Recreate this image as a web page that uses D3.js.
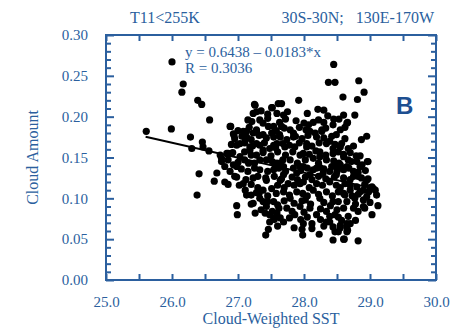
<!DOCTYPE html>
<html>
<head>
<meta charset="utf-8">
<script src="https://cdn.jsdelivr.net/npm/d3@7"></script>
<style>
  body { margin: 0; background: #fff; }
  text { font-family: "Liberation Serif", serif; fill: #2b5f9e; }
</style>
</head>
<body>
<svg id="chart" width="461" height="331"></svg>
<script>
// axis ticks
const xTicks = [25, 25.5, 26, 26.5, 27, 27.5, 28, 28.5, 29, 29.5, 30];
const yTicks = d3.range(0, 0.3001, 0.01).map(v => +v.toFixed(2));
const yLabels = [0, 0.05, 0.1, 0.15, 0.2, 0.25, 0.3];

// regression fit y = 0.6438 - 0.0183*x
const fitX = [25.6, 29.1];
const fitY = [0.1753, 0.1113];

// points [sst, cloud amount]
const leftTail = [
  [25.61,0.182],[25.99,0.185],[26.0,0.267],[26.17,0.240],[26.15,0.230],[26.39,0.220],
  [26.45,0.215],[26.57,0.196],[26.28,0.175],[26.46,0.169],[26.47,0.163],[26.56,0.158],
  [26.30,0.161],[26.38,0.104],[26.41,0.130],[26.64,0.121],[26.68,0.131],[26.80,0.120],
  [26.85,0.117],[26.89,0.188],[26.94,0.177],[26.93,0.179]
];
const topScatter = [
  [27.25,0.215],[27.28,0.206],[27.52,0.211],[28.45,0.264],[28.37,0.242],[28.47,0.242],
  [28.83,0.244],[28.91,0.230],[28.81,0.221],[28.59,0.224],[27.92,0.220],[28.21,0.209],
  [28.36,0.201],[28.53,0.197],[28.66,0.193],[27.61,0.216],[27.51,0.211],[28.95,0.176],
  [28.87,0.172],[28.60,0.202],[28.77,0.202],[28.65,0.192],[27.66,0.216],[27.69,0.202],
  [27.26,0.214],[27.23,0.204],[27.59,0.204]
];
const bottomScatter = [
  [28.97,0.145],[28.79,0.152],[29.12,0.091],[29.03,0.080],[29.08,0.110],[28.61,0.050],
  [28.82,0.048],[28.65,0.059],[28.23,0.056],[27.98,0.055],[27.97,0.062],[28.44,0.049],
  [28.47,0.059],[26.98,0.091],[26.99,0.080],[27.26,0.082],[27.46,0.062],[27.42,0.055],
  [28.96,0.145],[28.60,0.050],[28.66,0.061],[28.52,0.059],[28.65,0.069]
];
const clusterWest = [
  [26.73,0.153],[26.85,0.155],[26.75,0.145],[26.80,0.139],[26.88,0.133],[26.98,0.139],
  [26.95,0.127],[27.08,0.118],[27.11,0.110],[27.13,0.104],[27.23,0.094],[27.28,0.107],
  [27.38,0.096],[27.43,0.090],[27.48,0.080],[27.54,0.076],[27.59,0.082],[27.03,0.167],
  [27.13,0.175],[27.18,0.159],[27.28,0.167],[27.38,0.159],[27.43,0.147],[27.33,0.135],
  [27.23,0.125],[27.43,0.122],[27.51,0.112],[27.38,0.110],[27.54,0.135],[27.59,0.143],
  [27.28,0.182],[27.13,0.182],[27.54,0.175],[27.21,0.194],[27.33,0.196],[27.38,0.192],
  [27.54,0.188],[26.88,0.188],[27.08,0.182],[27.11,0.173],[27.23,0.180],[27.38,0.178],
  [27.51,0.180],[26.98,0.165],[26.83,0.155],[27.18,0.163],[27.33,0.165],[27.48,0.161],
  [27.59,0.167],[26.75,0.149],[27.03,0.151],[27.28,0.153],[26.93,0.141],[27.16,0.143],
  [27.56,0.141],[27.41,0.082],[27.48,0.071],[27.33,0.100],[27.54,0.096]
];
const clusterEast = [
  [28.14,0.193],[28.07,0.190],[28.44,0.190],[27.66,0.188],[27.79,0.184],[28.27,0.184],
  [28.09,0.182],[27.84,0.175],[27.64,0.175],[28.39,0.170],[28.19,0.175],[28.04,0.167],
  [27.86,0.163],[27.71,0.163],[28.24,0.157],[28.44,0.161],[27.99,0.155],[28.14,0.149],
  [27.79,0.147],[28.34,0.147],[27.94,0.139],[27.69,0.139],[28.49,0.139],[28.19,0.137],
  [28.57,0.167],[28.67,0.161],[28.60,0.151],[28.72,0.145],[28.55,0.141],[28.65,0.139],
  [27.69,0.071],[27.86,0.080],[27.74,0.088],[27.94,0.090],[28.09,0.088],[28.19,0.080],
  [28.34,0.084],[28.47,0.080],[28.12,0.069],[28.39,0.071],[28.44,0.065],[27.79,0.100],
  [28.02,0.098],[28.24,0.100],[28.44,0.096],[27.69,0.108],[27.89,0.108],[28.14,0.110],
  [28.34,0.108],[28.52,0.108],[27.76,0.118],[27.99,0.120],[28.19,0.118],[28.39,0.120],
  [27.69,0.129],[27.89,0.131],[28.09,0.129],[28.29,0.131],[28.49,0.129],[27.99,0.139],
  [28.24,0.138],[28.42,0.139],[28.57,0.137],[28.75,0.133],[28.87,0.125],[29.03,0.114],
  [28.98,0.108],[28.85,0.108],[28.70,0.116],[28.60,0.125],[28.62,0.104],[28.77,0.100],
  [28.90,0.098],[28.92,0.088],[28.75,0.088],[28.60,0.088],[28.67,0.078],[28.57,0.073],
  [28.70,0.069],[28.65,0.065],[27.84,0.180],[28.17,0.180],[28.27,0.182],[28.49,0.178],
  [27.54,0.165],[28.04,0.163],[28.34,0.167],[28.55,0.163],[27.94,0.153],[28.24,0.151],
  [28.44,0.155],[28.67,0.147],[28.85,0.139],[27.64,0.143],[27.84,0.137],[28.14,0.135],
  [28.39,0.133],[28.60,0.135],[28.75,0.127],[28.95,0.122],[29.05,0.112],[28.90,0.110],
  [27.64,0.122],[27.94,0.118],[28.49,0.116],[28.70,0.110],[28.65,0.096],[28.90,0.090],
  [27.64,0.076],[28.39,0.078],[27.99,0.069],[28.34,0.071],[28.55,0.067]
];
const clusterCore = [
  [27.35,0.207],[27.45,0.203],[27.75,0.206],[28.05,0.204],[28.3,0.208],
  [27.15,0.196],[27.45,0.198],[27.63,0.193],[27.72,0.197],[27.88,0.195],[28.0,0.192],
  [28.22,0.196],[28.3,0.193],[28.45,0.197],
  [27.0,0.183],[27.17,0.187],[27.28,0.184],[27.46,0.188],[27.58,0.183],[27.7,0.186],
  [27.93,0.187],[28.03,0.184],[28.33,0.186],[28.55,0.184],[28.62,0.187],
  [26.95,0.173],[27.06,0.176],[27.2,0.172],[27.32,0.177],[27.43,0.174],[27.63,0.178],
  [27.74,0.172],[27.87,0.176],[27.97,0.173],[28.06,0.177],[28.3,0.174],[28.42,0.176],[28.62,0.173],
  [26.9,0.166],[27.1,0.168],[27.22,0.164],[27.4,0.168],[27.57,0.162],[27.68,0.167],
  [27.78,0.165],[27.93,0.168],[28.12,0.164],[28.23,0.168],[28.47,0.166],[28.75,0.164],
  [26.92,0.156],[27.1,0.157],[27.2,0.153],[27.38,0.156],[27.5,0.152],[27.6,0.157],
  [27.72,0.153],[27.83,0.157],[28.08,0.154],[28.18,0.158],[28.33,0.153],[28.52,0.157],
  [28.6,0.154],[28.7,0.156],[28.85,0.152],
  [26.85,0.147],[27.0,0.144],[27.1,0.147],[27.25,0.143],[27.33,0.147],[27.52,0.145],
  [27.68,0.147],[27.9,0.143],[28.02,0.147],[28.22,0.143],[28.45,0.146],[28.53,0.143],
  [28.8,0.145],[28.88,0.141],
  [27.05,0.136],[27.15,0.133],[27.25,0.137],[27.45,0.133],[27.62,0.137],[27.72,0.133],
  [27.95,0.134],[28.05,0.137],[28.3,0.136],[28.5,0.133],[28.68,0.137],[28.82,0.132],[28.93,0.134],
  [26.98,0.126],[27.12,0.123],[27.3,0.127],[27.42,0.125],[27.55,0.127],[27.66,0.124],
  [27.82,0.126],[27.9,0.123],[28.02,0.126],[28.12,0.123],[28.22,0.127],[28.33,0.124],
  [28.46,0.126],[28.7,0.123],[28.82,0.127],[28.97,0.124],
  [27.02,0.116],[27.2,0.117],[27.3,0.113],[27.6,0.116],[27.7,0.113],[27.85,0.116],
  [28.08,0.113],[28.28,0.116],[28.55,0.113],[28.62,0.118],[28.8,0.114],[28.92,0.117],[29.0,0.113],
  [27.2,0.104],[27.32,0.106],[27.45,0.103],[27.58,0.106],[27.78,0.104],[27.98,0.106],
  [28.05,0.103],[28.22,0.105],[28.43,0.103],[28.6,0.106],[28.73,0.103],[28.82,0.105],
  [28.95,0.102],[29.1,0.104],
  [27.2,0.093],[27.45,0.096],[27.6,0.092],[27.7,0.097],[27.85,0.094],[27.97,0.097],
  [28.1,0.093],[28.3,0.095],[28.4,0.091],[28.52,0.096],[28.78,0.093],[29.0,0.095],
  [27.35,0.086],[27.52,0.084],[27.62,0.088],[27.82,0.084],[28.0,0.083],[28.25,0.087],
  [28.5,0.086],[28.82,0.084],
  [27.55,0.074],[27.78,0.076],[27.95,0.074],[28.05,0.077],[28.25,0.074],[28.52,0.077],[28.78,0.073],
  [27.6,0.066],[27.85,0.064],[28.12,0.063],[28.3,0.066],[28.55,0.064]
];

const points = [].concat(leftTail, topScatter, bottomScatter, clusterWest, clusterEast, clusterCore);

const blue = "#2b5f9e";
const svg = d3.select("#chart");
const margin = { top: 35, right: 25, bottom: 51, left: 106 };
const width = 461 - margin.left - margin.right;
const height = 331 - margin.top - margin.bottom;

const x = d3.scaleLinear().domain([25, 30]).range([0, width]);
const y = d3.scaleLinear().domain([0, 0.3]).range([height, 0]);

const g = svg.append("g").attr("transform", `translate(${margin.left},${margin.top})`);

// points first, frame on top
g.selectAll("circle")
  .data(points)
  .enter()
  .append("circle")
  .attr("cx", d => x(d[0]))
  .attr("cy", d => y(d[1]))
  .attr("r", 3.6)
  .attr("fill", "#000");

// fit line
g.append("line")
  .attr("x1", x(fitX[0])).attr("y1", y(fitY[0]))
  .attr("x2", x(fitX[1])).attr("y2", y(fitY[1]))
  .attr("stroke", "#000")
  .attr("stroke-width", 2);

// bottom axis with labels, ticks pointing inward
const xb = g.append("g")
  .attr("transform", `translate(0,${height})`)
  .call(d3.axisBottom(x).tickValues(xTicks).tickSize(-6).tickPadding(16)
    .tickFormat(d => Number.isInteger(d) ? d.toFixed(1) : ""));
const xt = g.append("g")
  .call(d3.axisTop(x).tickValues(xTicks).tickSize(-6).tickFormat(""));

const yl = g.append("g")
  .call(d3.axisLeft(y).tickValues(yTicks).tickSize(-5).tickPadding(18)
    .tickFormat(d => yLabels.some(v => Math.abs(v - d) < 1e-6) ? d.toFixed(2) : ""));
const yr = g.append("g")
  .attr("transform", `translate(${width},0)`)
  .call(d3.axisRight(y).tickValues(yTicks).tickSize(-5).tickFormat(""));

// major y ticks are longer
yl.selectAll(".tick line")
  .filter(d => yLabels.some(v => Math.abs(v - d) < 1e-6))
  .attr("x2", 8);
yr.selectAll(".tick line")
  .filter(d => yLabels.some(v => Math.abs(v - d) < 1e-6))
  .attr("x2", -8);

[xb, xt, yl, yr].forEach(a => {
  a.select(".domain").remove();
  a.selectAll(".tick line").attr("stroke", blue).attr("stroke-width", 2);
  a.selectAll(".tick text").attr("fill", blue).style("font-size", "15px")
    .style("font-family", "'Liberation Serif', serif");
});

g.append("rect")
  .attr("width", width).attr("height", height)
  .attr("fill", "none")
  .attr("stroke", blue)
  .attr("stroke-width", 2);

// titles
svg.append("text").attr("x", 130).attr("y", 23).style("font-size", "16px").text("T11<255K");
svg.append("text").attr("x", 434).attr("y", 23).attr("text-anchor", "end")
  .style("font-size", "16px").style("white-space", "pre")
  .text("30S-30N;   130E-170W");

svg.append("text")
  .attr("x", margin.left + width / 2).attr("y", 324)
  .attr("text-anchor", "middle").style("font-size", "16px")
  .text("Cloud-Weighted SST");

svg.append("text")
  .attr("transform", `translate(38,${margin.top + height / 2}) rotate(-90)`)
  .attr("text-anchor", "middle").style("font-size", "16px")
  .text("Cloud Amount");

// equation
svg.append("text").attr("x", 185).attr("y", 57).style("font-size", "15px")
  .text("y = 0.6438 \u2013 0.0183*x");
svg.append("text").attr("x", 185).attr("y", 73).style("font-size", "15px")
  .text("R = 0.3036");

// panel letter
svg.append("text").attr("x", 396).attr("y", 114)
  .style("font-family", "'Liberation Sans', Arial, sans-serif")
  .style("font-weight", "bold").style("font-size", "24px")
  .style("fill", "#1d4f91")
  .text("B");
</script>
</body>
</html>
